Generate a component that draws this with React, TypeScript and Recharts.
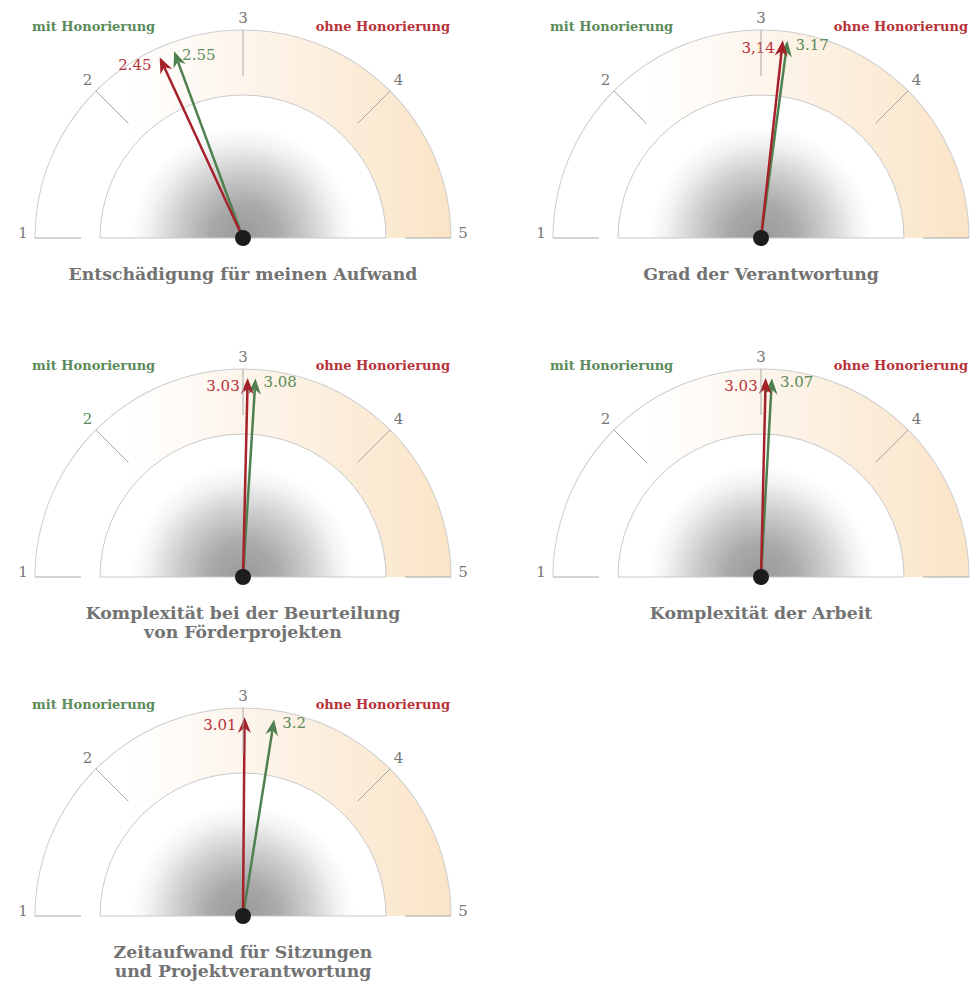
import React from "react";
import { Pie, PieChart, PolarAngleAxis, PolarRadiusAxis, RadialBar, RadialBarChart } from "recharts";

// five gauges, answers on a 1-5 scale
const titles = [
  ["Entschädigung für meinen Aufwand"],
  ["Grad der Verantwortung"],
  ["Komplexität bei der Beurteilung", "von Förderprojekten"],
  ["Komplexität der Arbeit"],
  ["Zeitaufwand für Sitzungen", "und Projektverantwortung"],
];
const mitValues = [2.55, 3.17, 3.08, 3.07, 3.2];
const ohneValues = [2.45, 3.14, 3.03, 3.03, 3.01];
const mitLabels = ["2.55", "3.17", "3.08", "3.07", "3.2"];
const ohneLabels = ["2.45", "3,14", "3.03", "3.03", "3.01"];
const scaleTicks = [1, 2, 3, 4, 5];
const seriesNames = ["mit Honorierung", "ohne Honorierung"];

const GREEN = "#4f8150";
const RED = "#a5222a";
const GREEN_TXT = "#5b8b5b";
const RED_TXT = "#b8323a";
const GREY_TXT = "#777";
const FONT = "'DejaVu Serif', serif";

const W = 490;
const H = 300;
const CX = 243;
const CY = 238;
const R_OUT = 208;
const R_IN = 143;
const NEEDLE = 199;

const slots = [
  { left: 0, top: 0 },
  { left: 518, top: 0 },
  { left: 0, top: 339 },
  { left: 518, top: 339 },
  { left: 0, top: 678 },
];

const rad = Math.PI / 180;
const polar = (cx: number, cy: number, r: number, deg: number) => ({
  x: cx + r * Math.cos(deg * rad),
  y: cy - r * Math.sin(deg * rad),
});

const ScaleTick = (props: any) => {
  const { payload, gauge } = props;
  const cx = props.cx ?? CX;
  const cy = props.cy ?? CY;
  const a = payload.coordinate;
  const p1 = polar(cx, cy, R_OUT, a);
  const p2 = polar(cx, cy, R_OUT - 46, a);
  const c = Math.cos(a * rad);
  const lp = polar(cx, cy, 220, a);
  // the "2" of the third gauge is printed green
  const fill = gauge === 2 && payload.value === 2 ? GREEN_TXT : GREY_TXT;
  return (
    <g>
      <line x1={p1.x} y1={p1.y} x2={p2.x} y2={p2.y} stroke="#a8a8a8" strokeWidth={1} />
      <text
        x={lp.x}
        y={lp.y - 5 * c * c}
        textAnchor="middle"
        dominantBaseline="central"
        fontFamily={FONT}
        fontSize={15}
        fill={fill}
      >
        {payload.value}
      </text>
    </g>
  );
};

const makeNeedle = (gauge: number) => (props: any) => {
  const { cx, cy, endAngle, index } = props;
  const isMit = index === 0;
  const color = isMit ? GREEN : RED;
  const tip = polar(cx, cy, NEEDLE, endAngle);
  const back = polar(cx, cy, NEEDLE - 16, endAngle);
  const notch = polar(cx, cy, NEEDLE - 11, endAngle);
  const nx = Math.sin(endAngle * rad);
  const ny = Math.cos(endAngle * rad);
  const head = `M${tip.x},${tip.y} L${back.x + 6.5 * nx},${back.y + 6.5 * ny} L${notch.x},${notch.y} L${back.x - 6.5 * nx},${back.y - 6.5 * ny} Z`;
  return (
    <g>
      <line x1={cx} y1={cy} x2={notch.x} y2={notch.y} stroke={color} strokeWidth={2.5} />
      <path d={head} fill={color} />
      {isMit ? (
        <text x={tip.x + 8} y={tip.y + 4} dominantBaseline="central" fontFamily={FONT} fontSize={15} fill={GREEN_TXT}>
          {mitLabels[gauge]}
        </text>
      ) : (
        <text x={tip.x - 8} y={tip.y + 8} textAnchor="end" dominantBaseline="central" fontFamily={FONT} fontSize={15} fill={RED_TXT}>
          {ohneLabels[gauge]}
        </text>
      )}
      {index === 1 && <circle cx={cx} cy={cy} r={8} fill="#1c1c1c" />}
    </g>
  );
};

const one = [{ value: 1 }];

function Gauge({ i }: { i: number }) {
  const data = [
    { name: seriesNames[0], value: mitValues[i] },
    { name: seriesNames[1], value: ohneValues[i] },
  ];
  const margin = { top: 0, right: 0, bottom: 0, left: 0 };
  return (
    <div style={{ position: "absolute", left: slots[i].left, top: slots[i].top, width: W, height: 330 }}>
      <div style={{ position: "absolute", left: 0, top: 0 }}>
        <PieChart width={W} height={H} margin={margin}>
          <defs>
            <linearGradient id={`band-${i}`} x1="0" y1="0" x2="1" y2="0">
              <stop offset="0%" stopColor="#ffffff" />
              <stop offset="22%" stopColor="#ffffff" />
              <stop offset="50%" stopColor="#fdf5ec" />
              <stop offset="100%" stopColor="#fae4c6" />
            </linearGradient>
            <radialGradient id={`shade-${i}`} gradientUnits="userSpaceOnUse" cx={CX} cy={CY} r={112}>
              <stop offset="0%" stopColor="#999999" />
              <stop offset="30%" stopColor="#a9a9a9" />
              <stop offset="60%" stopColor="#cfcfcf" />
              <stop offset="85%" stopColor="#f3f3f3" />
              <stop offset="100%" stopColor="#ffffff" />
            </radialGradient>
          </defs>
          <Pie data={one} dataKey="value" cx={CX} cy={CY} startAngle={180} endAngle={0}
            innerRadius={R_IN} outerRadius={R_OUT} fill={`url(#band-${i})`} stroke="none" isAnimationActive={false} />
          <Pie data={one} dataKey="value" cx={CX} cy={CY} startAngle={180} endAngle={0}
            innerRadius={R_OUT - 0.5} outerRadius={R_OUT + 0.5} fill="#cdcdcd" stroke="none" isAnimationActive={false} />
          <Pie data={one} dataKey="value" cx={CX} cy={CY} startAngle={180} endAngle={0}
            innerRadius={0} outerRadius={R_IN} fill={`url(#shade-${i})`} stroke="#c9c9c9" strokeWidth={1} isAnimationActive={false} />
        </PieChart>
      </div>
      <div style={{ position: "absolute", left: 0, top: 0 }}>
        <RadialBarChart width={W} height={H} data={data} cx={CX} cy={CY} startAngle={180} endAngle={0}
          innerRadius={0} outerRadius={R_OUT} margin={margin}>
          <PolarAngleAxis type="number" domain={[1, 5]} ticks={scaleTicks} axisLine={false} tickLine={false}
            tick={(p: any) => <ScaleTick {...p} gauge={i} />} />
          <PolarRadiusAxis type="category" dataKey="name" tick={false} axisLine={false} />
          <RadialBar dataKey="value" shape={makeNeedle(i)} isAnimationActive={false} />
        </RadialBarChart>
      </div>
      <div style={{ position: "absolute", left: 32, top: 19, color: GREEN_TXT, fontFamily: FONT, fontWeight: "bold", fontSize: 13, whiteSpace: "nowrap" }}>
        {seriesNames[0]}
      </div>
      <div style={{ position: "absolute", right: W - 450, top: 19, color: RED_TXT, fontFamily: FONT, fontWeight: "bold", fontSize: 13, whiteSpace: "nowrap" }}>
        {seriesNames[1]}
      </div>
      <div style={{ position: "absolute", left: 0, width: 486, top: 265, textAlign: "center", color: "#737373", fontFamily: FONT, fontWeight: "bold", fontSize: 17.3, lineHeight: "19px" }}>
        {titles[i].map((t) => (
          <div key={t}>{t}</div>
        ))}
      </div>
    </div>
  );
}

export default function App() {
  return (
    <div style={{ position: "absolute", left: 0, top: 0, width: 973, height: 981, background: "#fff", overflow: "hidden" }}>
      {titles.map((_, i) => (
        <Gauge key={i} i={i} />
      ))}
    </div>
  );
}
